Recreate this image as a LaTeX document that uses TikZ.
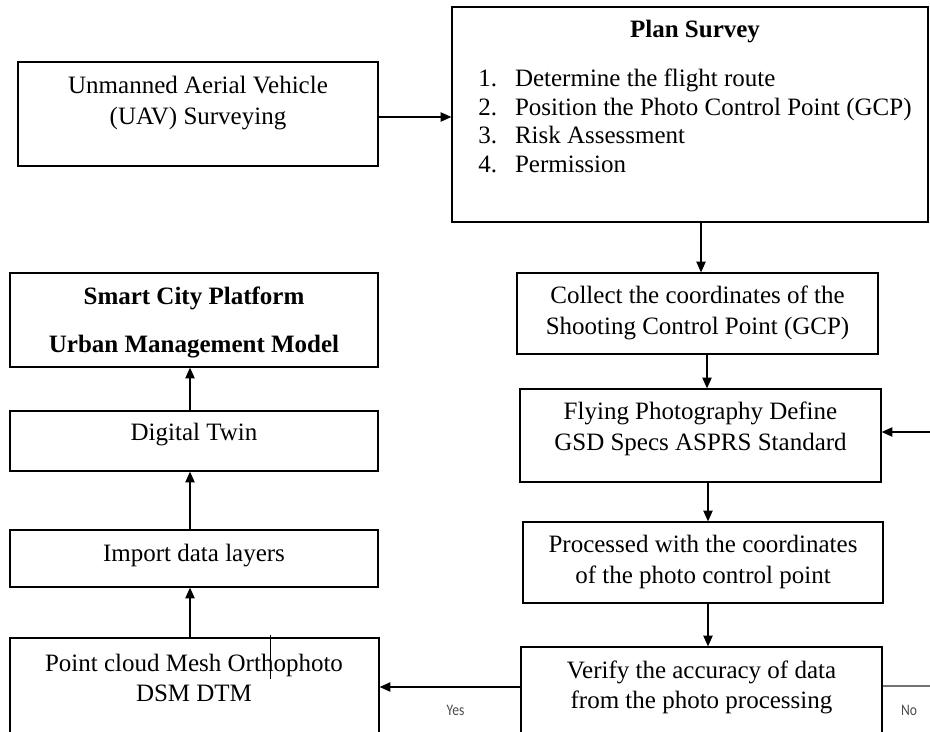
\documentclass[tikz,border=0pt]{standalone}
\usepackage{fontspec}
\setmainfont{Liberation Serif}
\newfontfamily\labelfont{Carlito}
\usetikzlibrary{arrows.meta,calc}

\begin{document}
\begin{tikzpicture}[x=0.75pt,y=-0.75pt,
  box/.style={draw=black, line width=1pt, inner sep=0pt},
  txt/.style={inner sep=0pt, align=center, font=\fontsize{18.75pt}{23pt}\selectfont},
  boldtxt/.style={inner sep=0pt, align=center, font=\fontsize{18.75pt}{36pt}\selectfont\bfseries},
  arr/.style={-{Triangle[length=8pt,width=7pt]}, line width=0.8pt},
  lbl/.style={inner sep=0pt, text=black!70, font=\labelfont\fontsize{12pt}{14pt}\selectfont, xscale=0.85}
]
\useasboundingbox (0,0) rectangle (930,731);
\fill[white] (0,0) rectangle (930,731);
\clip (0,0) rectangle (930,731);

% boxes
\node[box, minimum width=270pt, minimum height=78pt] (uav) at (198,114) {};
\node[box, minimum width=357pt, minimum height=161.25pt] (plan) at (690,114.5) {};
\node[box, minimum width=276pt, minimum height=70.5pt] (smart) at (194,320) {};
\node[box, minimum width=276pt, minimum height=45pt] (twin) at (194,441) {};
\node[box, minimum width=276pt, minimum height=42.75pt] (import) at (194,558.5) {};
\node[box, minimum width=276.75pt, minimum height=91.5pt] (cloud) at (194.5,699) {};
\node[box, minimum width=270.75pt, minimum height=60.75pt] (collect) at (697.5,313.5) {};
\node[box, minimum width=270.75pt, minimum height=69.75pt] (flying) at (700.5,435.5) {};
\node[box, minimum width=270pt, minimum height=60.75pt] (processed) at (703,562.5) {};
\node[box, minimum width=270.75pt, minimum height=84.75pt] (verify) at (701.5,703.5) {};

% texts
\node[txt] (uavt) at (198,103) {Unmanned Aerial Vehicle\\(UAV) Surveying};
\node[txt, font=\fontsize{18.75pt}{22pt}\selectfont\bfseries] (plant) at (695,32) {Plan Survey};
\node[inner sep=0pt, anchor=west, font=\fontsize{18.75pt}{21.4pt}\selectfont] (planlist) at (478,124)
  {\begin{tabular}{@{}l@{\hspace{13.5pt}}l@{}}
   1. & Determine the flight route\\
   2. & Position the Photo Control Point (GCP)\\
   3. & Risk Assessment\\
   4. & Permission
   \end{tabular}};
\node[boldtxt] (smartt) at (194,322) {Smart City Platform\\Urban Management Model};
\node[txt] (twint) at (194,435) {Digital Twin};
\node[txt] (importt) at (194,556) {Import data layers};
\node[txt] (cloudt) at (194,678) {Point cloud Mesh Orthophoto\\DSM DTM};
\node[txt] (collectt) at (697.5,313) {Collect the coordinates of the\\Shooting Control Point (GCP)};
\node[txt] (flyingt) at (700.5,429) {Flying Photography Define\\GSD Specs ASPRS Standard};
\node[txt] (processedt) at (703,562) {Processed with the coordinates\\of the photo control point};
\node[txt] (verifyt) at (701.5,687.5) {Verify the accuracy of data\\from the photo processing};

% connectors
\draw[arr] ($(uav.east)+(0,3)$) coordinate (a1) -- (a1 -| plan.west);
\draw[arr] ($(plan.south)+(11,0)$) coordinate (a2) -- (a2 |- collect.north);
\draw[arr] ($(collect.south)+(9.5,0)$) coordinate (a3) -- (a3 |- flying.north);
\draw[arr] ($(flying.south)+(7.5,0)$) coordinate (a4) -- (a4 |- processed.north);
\draw[arr] ($(processed.south)+(5,0)$) coordinate (a5) -- (a5 |- verify.north);
\draw[arr] ($(verify.west)+(0,-16.5)$) coordinate (a6) -- (a6 -| cloud.east);
\draw[arr] ($(cloud.north)+(-4.5,0)$) coordinate (a8) -- (a8 |- import.south);
\draw[arr] ($(import.north)+(-4,0)$) coordinate (a9) -- (a9 |- twin.south);
\draw[arr] ($(twin.north)+(-4,0)$) coordinate (a10) -- (a10 |- smart.south);

% loop back for a failed check, running off the right edge
\coordinate (noend) at (932,686);
\draw[line width=0.8pt, black!55] (noend -| verify.east) -- (noend);
\coordinate (backin) at (932,432);
\draw[arr] (backin) -- (backin -| flying.east);

% stray text cursor
\draw[line width=0.6pt] (270,635) -- (270,679);

% branch labels
\node[lbl] (yes) at (455.5,710) {Yes};
\node[lbl] (no) at (909,710) {No};
\end{tikzpicture}
\end{document}
